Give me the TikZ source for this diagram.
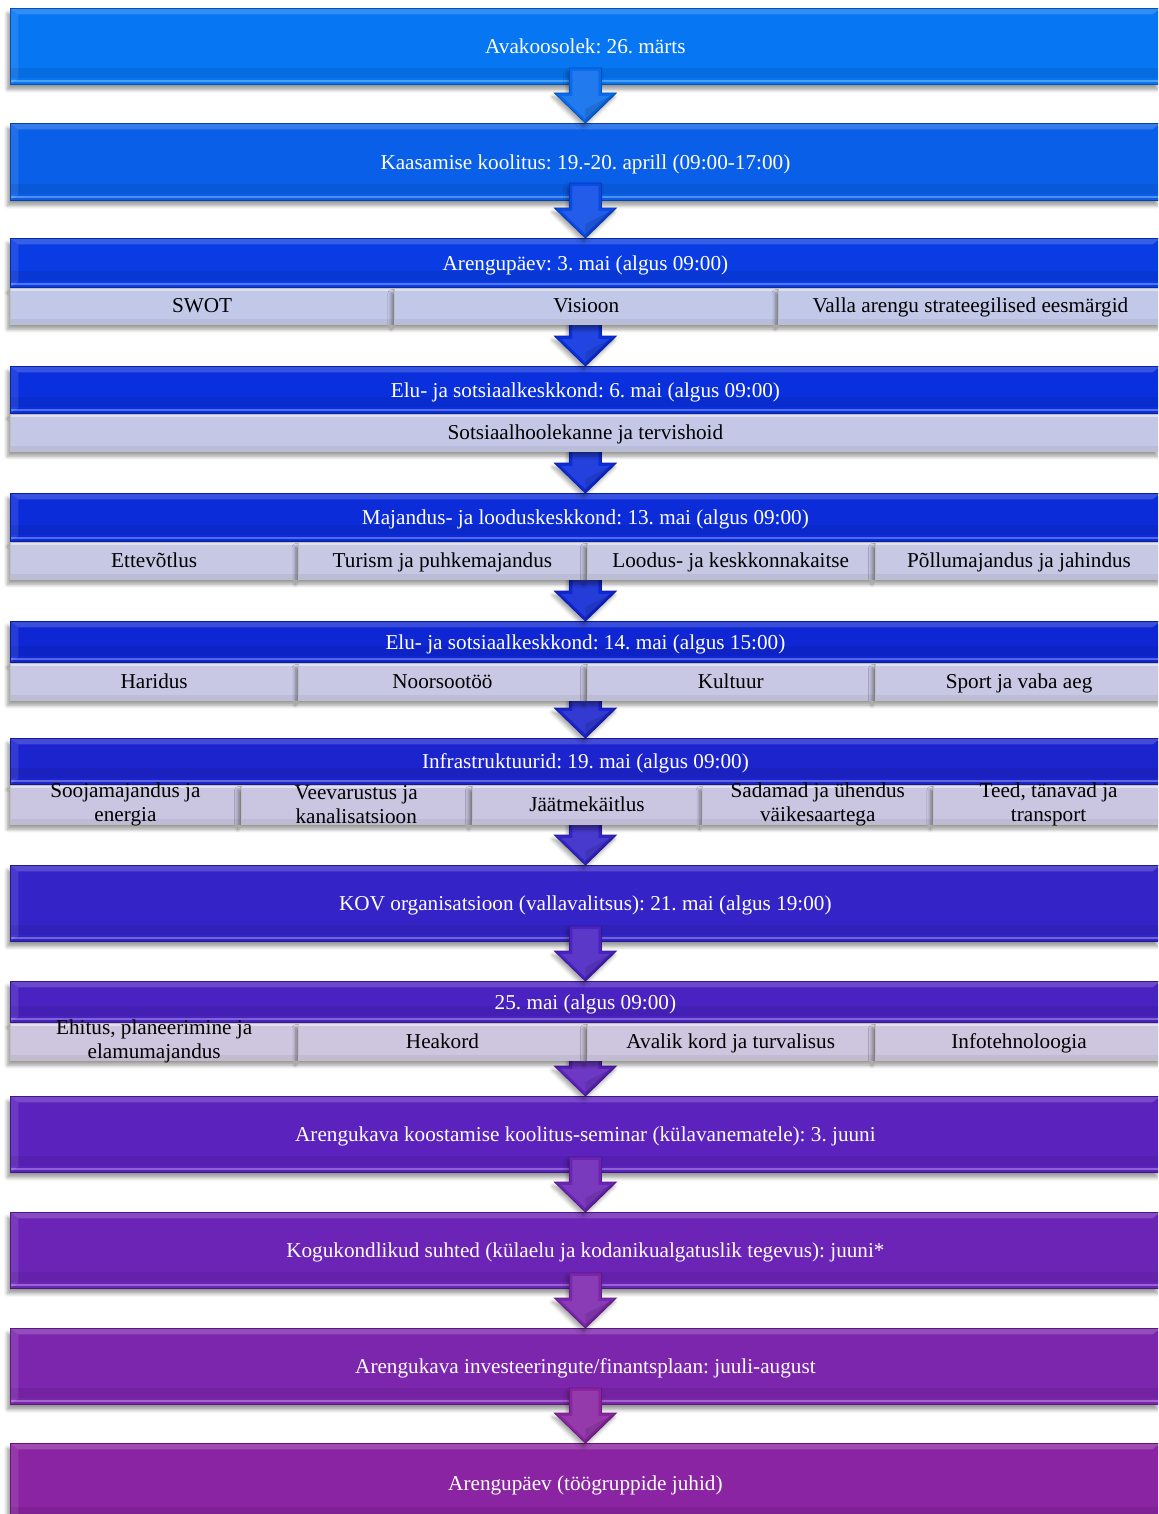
\documentclass[tikz,border=0pt]{standalone}
\usepackage{fontspec}
\setmainfont{Liberation Serif}
\frenchspacing
\usetikzlibrary{shadows,shadows.blur}
\definecolor{c1}{RGB}{6,118,242}
\definecolor{c2}{RGB}{10,95,232}
\definecolor{c3}{RGB}{10,60,228}
\definecolor{c4}{RGB}{10,48,222}
\definecolor{c5}{RGB}{12,44,218}
\definecolor{c6}{RGB}{14,38,212}
\definecolor{c7}{RGB}{28,36,206}
\definecolor{c8}{RGB}{52,36,200}
\definecolor{c9}{RGB}{74,34,194}
\definecolor{c10}{RGB}{92,34,190}
\definecolor{c11}{RGB}{108,36,182}
\definecolor{c12}{RGB}{124,38,174}
\definecolor{c13}{RGB}{138,36,162}
\definecolor{s3}{RGB}{194,200,232}
\definecolor{s4}{RGB}{196,200,230}
\definecolor{s5}{RGB}{198,200,228}
\definecolor{s6}{RGB}{200,200,228}
\definecolor{s7}{RGB}{202,198,226}
\definecolor{s9}{RGB}{206,198,222}
\newcommand\mainfs{\fontsize{10.6pt}{12pt}\selectfont}
\newcommand\barbevel{%
  \fill[white,opacity=.18] (path picture bounding box.north west) -- (path picture bounding box.north east)
     -- ([xshift=-4pt,yshift=-3pt]path picture bounding box.north east) -- ([xshift=4pt,yshift=-3pt]path picture bounding box.north west) -- cycle;
  \fill[white,opacity=.10] (path picture bounding box.north west) -- ([xshift=4pt,yshift=-3pt]path picture bounding box.north west)
     -- ([xshift=4pt,yshift=3pt]path picture bounding box.south west) -- (path picture bounding box.south west) -- cycle;
  \fill[black,opacity=.07] ([yshift=3pt]path picture bounding box.south west) rectangle ([yshift=8pt]path picture bounding box.south east);
  \fill[white,opacity=.30] ([yshift=1pt]path picture bounding box.south west) rectangle ([yshift=2.4pt]path picture bounding box.south east);}
\newcommand\cellbevel{%
  \fill[white,opacity=.45] (path picture bounding box.north west) rectangle ([yshift=-1.2pt]path picture bounding box.north east);
  \fill[black,opacity=.05] ([yshift=2.5pt]path picture bounding box.south west) rectangle (path picture bounding box.south east);}
\tikzset{
  every node/.style={font=\mainfs},
  bar/.style={anchor=north west, minimum width=575pt, inner sep=0pt, fill=#1, draw=#1!70!black, line width=0.4pt,
    text=white, text height=0.8em, text depth=0.06em,
    blur shadow={shadow xshift=-1.5pt, shadow yshift=-2.5pt, shadow opacity=40, shadow blur steps=6},
    path picture={\barbevel}},
  cell/.style={anchor=north west, inner sep=0pt, fill=#1, draw=black!25, line width=0.4pt,
    text=black, text height=0.72em, text depth=0.08em,
    blur shadow={shadow xshift=-1.5pt, shadow yshift=-2.5pt, shadow opacity=40, shadow blur steps=6},
    path picture={\cellbevel}},
  twol/.style={align=center, text=black},
  w3/.style={minimum width=191.67pt},
  w4/.style={minimum width=143.75pt},
  w5/.style={minimum width=115pt}
}
\newcommand\flowarrow[2]{%
  \begin{scope}[shift={(#1.north)}]
    \path[fill=#2, draw=#2!75!black, line width=0.4pt,
      blur shadow={shadow xshift=-1pt, shadow yshift=-2pt, shadow opacity=35, shadow blur steps=5}]
      (-16,-55) -- (16,-55) -- (16,-30) -- (31,-30) -- (0,0) -- (-31,-30) -- (-16,-30) -- cycle;
    \fill[white,opacity=.10] (-13,-52) -- (13,-52) -- (13,-27) -- (24,-27) -- (0,-4) -- (-24,-27) -- (-13,-27) -- cycle;
    \fill[black,opacity=.10] (0,-14) -- (31,-30) -- (0,0) -- cycle;
  \end{scope}}
\begin{document}
\begin{tikzpicture}[x=0.5pt,y=-0.5pt]
\useasboundingbox (0,0) rectangle (1158,1514);
\clip (0,0) rectangle (1158,1514);
% main bars
\node[bar=c1, minimum height=38pt] (b1) at (10,8) {Avakoosolek: 26. märts};
\node[bar=c2, minimum height=38.5pt] (b2) at (10,123) {Kaasamise koolitus: 19.-20. aprill (09:00-17:00)};
\node[bar=c3, minimum height=24.5pt] (b3) at (10,238) {Arengupäev: 3. mai (algus 09:00)};
\node[bar=c4, minimum height=23.5pt] (b4) at (10,366) {Elu- ja sotsiaalkeskkond: 6. mai (algus 09:00)};
\node[bar=c5, minimum height=24pt] (b5) at (10,493) {Majandus- ja looduskeskkond: 13. mai (algus 09:00)};
\node[bar=c6, minimum height=20.5pt] (b6) at (10,621) {Elu- ja sotsiaalkeskkond: 14. mai (algus 15:00)};
\node[bar=c7, minimum height=23pt] (b7) at (10,738) {Infrastruktuurid: 19. mai (algus 09:00)};
\node[bar=c8, minimum height=38pt] (b8) at (10,865) {KOV organisatsioon (vallavalitsus): 21. mai (algus 19:00)};
\node[bar=c9, minimum height=20.5pt] (b9) at (10,981) {25. mai (algus 09:00)};
\node[bar=c10, minimum height=38pt] (b10) at (10,1096) {Arengukava koostamise koolitus-seminar (külavanematele): 3. juuni};
\node[bar=c11, minimum height=38pt] (b11) at (10,1212) {Kogukondlikud suhted (külaelu ja kodanikualgatuslik tegevus): juuni*};
\node[bar=c12, minimum height=38pt] (b12) at (10,1328) {Arengukava investeeringute/finantsplaan: juuli-august};
\node[bar=c13, minimum height=40pt] (b13) at (10,1443) {Arengupäev (töögruppide juhid)};
% arrows
\flowarrow{b2}{c1!50!c2}
\flowarrow{b3}{c2!40!c3}
\flowarrow{b4}{c4}
\flowarrow{b5}{c5}
\flowarrow{b6}{c6}
\flowarrow{b7}{c7}
\flowarrow{b8}{c8}
\flowarrow{b9}{c9}
\flowarrow{b10}{c10}
\flowarrow{b11}{c11}
\flowarrow{b12}{c12}
\flowarrow{b13}{c13}
% sub rows
\node[cell=s3, w3, minimum height=18pt] (b3a) at (b3.south west) {SWOT};
\node[cell=s3, w3, minimum height=18pt] (b3b) at (b3a.north east) {Visioon};
\node[cell=s3, w3, minimum height=18pt] (b3c) at (b3b.north east) {Valla arengu strateegilised eesmärgid};
\node[cell=s4, minimum width=575pt, minimum height=18.5pt] (b4a) at (b4.south west) {Sotsiaalhoolekanne ja tervishoid};
\node[cell=s5, w4, minimum height=18.5pt] (b5a) at (b5.south west) {Ettevõtlus};
\node[cell=s5, w4, minimum height=18.5pt] (b5b) at (b5a.north east) {Turism ja puhkemajandus};
\node[cell=s5, w4, minimum height=18.5pt] (b5c) at (b5b.north east) {Loodus- ja keskkonnakaitse};
\node[cell=s5, w4, minimum height=18.5pt] (b5d) at (b5c.north east) {Põllumajandus ja jahindus};
\node[cell=s6, w4, minimum height=18.5pt] (b6a) at (b6.south west) {Haridus};
\node[cell=s6, w4, minimum height=18.5pt] (b6b) at (b6a.north east) {Noorsootöö};
\node[cell=s6, w4, minimum height=18.5pt] (b6c) at (b6b.north east) {Kultuur};
\node[cell=s6, w4, minimum height=18.5pt] (b6d) at (b6c.north east) {Sport ja vaba aeg};
\node[cell=s7, w5, minimum height=19.5pt, label={[name=b7at, twol]center:Soojamajandus ja\\energia}] (b7a) at (b7.south west) {};
\node[cell=s7, w5, minimum height=19.5pt, label={[name=b7bt, twol]center:Veevarustus ja\\kanalisatsioon}] (b7b) at (b7a.north east) {};
\node[cell=s7, w5, minimum height=19.5pt] (b7c) at (b7b.north east) {Jäätmekäitlus};
\node[cell=s7, w5, minimum height=19.5pt, label={[name=b7dt, twol]center:Sadamad ja ühendus\\väikesaartega}] (b7d) at (b7c.north east) {};
\node[cell=s7, w5, minimum height=19.5pt, label={[name=b7et, twol]center:Teed, tänavad ja\\transport}] (b7e) at (b7d.north east) {};
\node[cell=s9, w4, minimum height=18.5pt, label={[name=b9at, twol]center:Ehitus, planeerimine ja\\elamumajandus}] (b9a) at (b9.south west) {};
\node[cell=s9, w4, minimum height=18.5pt] (b9b) at (b9a.north east) {Heakord};
\node[cell=s9, w4, minimum height=18.5pt] (b9c) at (b9b.north east) {Avalik kord ja turvalisus};
\node[cell=s9, w4, minimum height=18.5pt] (b9d) at (b9c.north east) {Infotehnoloogia};
\end{tikzpicture}
\end{document}
